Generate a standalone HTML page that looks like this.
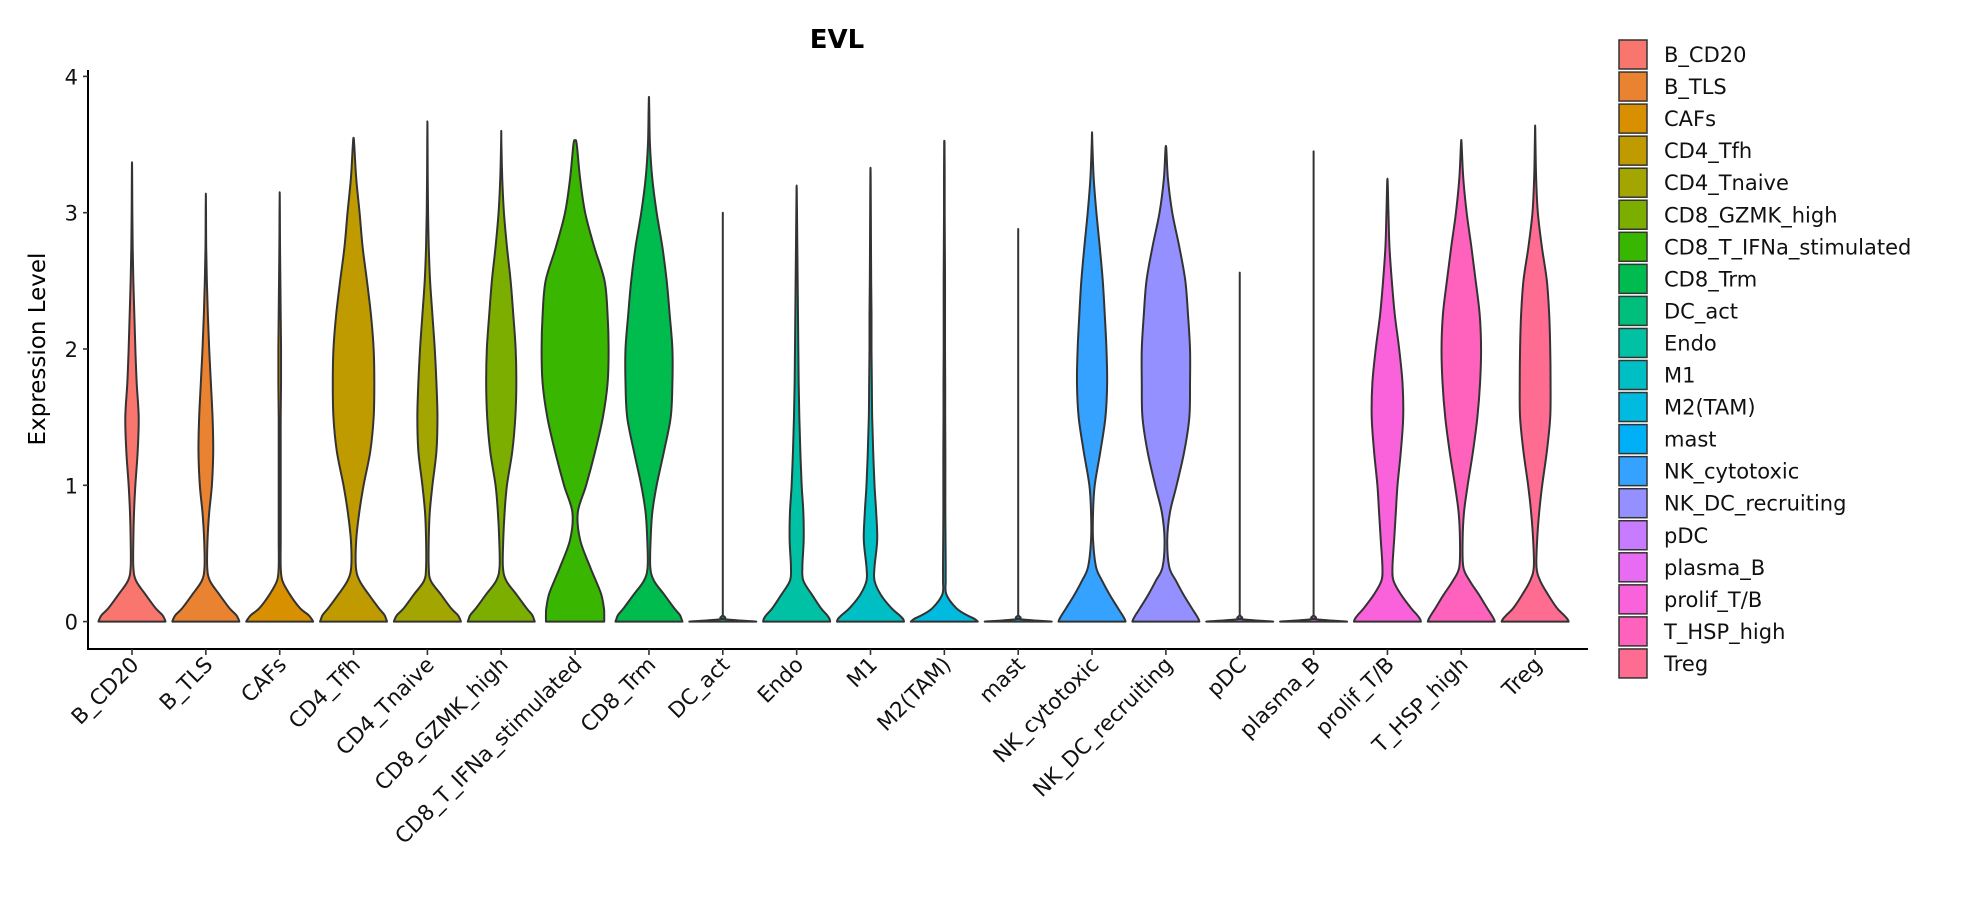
<!DOCTYPE html>
<html><head><meta charset="utf-8"><style>
html,body{margin:0;padding:0;background:#fff;}
svg{display:block;font-family:"DejaVu Sans","Liberation Sans",sans-serif;}
</style></head><body>
<svg id="chart" width="1965" height="900" viewBox="0 0 1965 900">
<text x="837" y="48" font-size="26" font-weight="bold" text-anchor="middle">EVL</text>
<text transform="translate(45,349) rotate(-90)" font-size="23" text-anchor="middle">Expression Level</text>
<g id="plot"></g>
<g id="legend"></g>
</svg>
<script>
const categories = ["B_CD20","B_TLS","CAFs","CD4_Tfh","CD4_Tnaive","CD8_GZMK_high","CD8_T_IFNa_stimulated","CD8_Trm","DC_act","Endo","M1","M2(TAM)","mast","NK_cytotoxic","NK_DC_recruiting","pDC","plasma_B","prolif_T/B","T_HSP_high","Treg"];
const colors = ["#F8766D","#EA8331","#D89000","#C09B00","#A3A500","#7CAE00","#39B600","#00BB4E","#00BF7D","#00C1A3","#00BFC4","#00BAE0","#00B0F6","#35A2FF","#9590FF","#C77CFF","#E76BF3","#FA62DB","#FF62BC","#FF6C91"];
const maxValues = [3.37,3.14,3.15,3.55,3.67,3.6,3.53,3.85,3.0,3.2,3.33,3.52,2.88,3.59,3.49,2.56,3.45,3.25,3.53,3.64];
const densityLevels = [0,0.02,0.05,0.1,0.2,0.3,0.4,0.6,0.8,1.0,1.25,1.5,1.75,2.0,2.25,2.5,2.75,3.0,3.25,3.5,3.75,4.0];
const FLAT = [1,0,0,0,0,0,0,0,0,0,0,0,0,0,0,0,0,0,0,0,0,0];
const densities = [
 [1,0.97,0.9,0.7,0.4,0.12,0.04,0.04,0.06,0.1,0.17,0.2,0.14,0.1,0.07,0.04,0.02,0.01,0.005,0,0,0],
 [1,0.97,0.9,0.7,0.4,0.12,0.04,0.05,0.1,0.18,0.22,0.2,0.15,0.1,0.06,0.03,0.01,0.005,0,0,0,0],
 [1,0.95,0.85,0.6,0.3,0.08,0.03,0.03,0.03,0.03,0.03,0.03,0.04,0.04,0.03,0.02,0.01,0.005,0,0,0,0],
 [1,0.97,0.92,0.75,0.45,0.18,0.07,0.08,0.17,0.3,0.5,0.6,0.62,0.6,0.52,0.4,0.27,0.18,0.08,0.02,0,0],
 [1,0.97,0.9,0.7,0.4,0.1,0.04,0.04,0.07,0.15,0.27,0.3,0.27,0.22,0.15,0.08,0.04,0.02,0.01,0.005,0,0],
 [1,0.97,0.92,0.75,0.45,0.15,0.05,0.06,0.1,0.17,0.33,0.42,0.45,0.43,0.36,0.28,0.17,0.08,0.03,0.005,0,0],
 [0.87,0.87,0.87,0.86,0.78,0.62,0.45,0.15,0.08,0.33,0.6,0.83,0.97,1.0,0.97,0.88,0.57,0.3,0.15,0.05,0,0],
 [1,0.97,0.92,0.75,0.45,0.15,0.04,0.05,0.1,0.23,0.45,0.65,0.7,0.7,0.62,0.53,0.4,0.23,0.1,0.03,0.01,0],
 FLAT,
 [1,0.98,0.9,0.72,0.45,0.2,0.17,0.21,0.2,0.15,0.11,0.08,0.06,0.05,0.04,0.03,0.02,0.01,0,0,0,0],
 [1,0.97,0.85,0.62,0.3,0.12,0.12,0.2,0.17,0.12,0.08,0.05,0.04,0.03,0.03,0.02,0.015,0.01,0.005,0,0,0],
 [1,0.9,0.65,0.35,0.06,0.04,0.04,0.035,0.03,0.03,0.03,0.025,0.025,0.02,0.02,0.02,0.015,0.01,0.01,0.005,0,0],
 FLAT,
 [1,0.97,0.9,0.77,0.52,0.3,0.12,0.03,0.03,0.08,0.25,0.4,0.45,0.43,0.38,0.32,0.23,0.13,0.05,0.01,0,0],
 [1,0.97,0.9,0.77,0.52,0.3,0.1,0.04,0.12,0.32,0.55,0.7,0.72,0.72,0.66,0.58,0.4,0.19,0.06,0.01,0,0],
 FLAT,
 FLAT,
 [1,0.97,0.88,0.7,0.4,0.18,0.15,0.2,0.25,0.3,0.4,0.47,0.45,0.35,0.22,0.13,0.06,0.03,0.01,0,0,0],
 [1,0.97,0.9,0.77,0.52,0.25,0.06,0.04,0.08,0.19,0.35,0.48,0.56,0.59,0.55,0.43,0.3,0.16,0.06,0.01,0,0],
 [1,0.96,0.85,0.65,0.38,0.15,0.04,0.06,0.12,0.21,0.35,0.45,0.46,0.45,0.42,0.35,0.2,0.08,0.03,0.01,0,0]
];
const yTicks = [0,1,2,3,4];

const NS = "http://www.w3.org/2000/svg";
const plot = document.getElementById('plot');
const legend = document.getElementById('legend');
const AX_L = 88, AX_R = 1588, AX_B = 649;
const Y0 = 621.6, PX_PER = 136.3;
const X0 = 132, STEP = 73.85, HALF = 33.5;
function yScale(v){ return Y0 - v*PX_PER; }
function xScale(i){ return X0 + i*STEP; }
function mk(tag, attrs){ const e=document.createElementNS(NS,tag); for(const k in attrs) e.setAttribute(k,attrs[k]); return e; }

const yAxis = mk('line',{x1:AX_L,y1:70,x2:AX_L,y2:AX_B+1,stroke:'#000','stroke-width':2});


plot.appendChild(yAxis);
const xAxis = mk('line',{x1:AX_L-1,y1:AX_B,x2:AX_R,y2:AX_B,stroke:'#000','stroke-width':2});


plot.appendChild(xAxis);

yTicks.forEach(t=>{
  const y=yScale(t);
  const tk=mk('line',{x1:AX_L-5,y1:y,x2:AX_L,y2:y,stroke:'#333','stroke-width':1.6});
  
  
  plot.appendChild(tk);
  const lb=mk('text',{x:AX_L-10,y:y+8,'font-size':21,'text-anchor':'end',fill:'#111'});
  lb.textContent=t;
  
  
  plot.appendChild(lb);
});

function smoothPath(pts){
  let d='';
  for(let i=0;i<pts.length-1;i++){
    const p0=pts[Math.max(0,i-1)], p1=pts[i], p2=pts[i+1], p3=pts[Math.min(pts.length-1,i+2)];
    const c1x=p1[0]+(p2[0]-p0[0])/6, c1y=p1[1]+(p2[1]-p0[1])/6;
    const c2x=p2[0]-(p3[0]-p1[0])/6, c2y=p2[1]-(p3[1]-p1[1])/6;
    d+=` C${c1x.toFixed(2)},${c1y.toFixed(2)} ${c2x.toFixed(2)},${c2y.toFixed(2)} ${p2[0].toFixed(2)},${p2[1].toFixed(2)}`;
  }
  return d;
}

categories.forEach((c,i)=>{
  const cx=xScale(i), mx=maxValues[i], dens=densities[i];
  const right=[];
  for(let k=0;k<densityLevels.length;k++){
    if(densityLevels[k]>=mx) break;
    right.push([cx+dens[k]*HALF, yScale(densityLevels[k])]);
  }
  right.push([cx, yScale(mx)]);
  const left=right.slice(0,-1).reverse().map(p=>[2*cx-p[0],p[1]]);
  const pts=right.concat(left);
  const d='M'+pts[0][0].toFixed(2)+','+pts[0][1].toFixed(2)+smoothPath(pts)+' Z';
  const path=mk('path',{d:d,fill:colors[i],stroke:'#333','stroke-width':2,'stroke-linejoin':'round'});
  
  
  plot.appendChild(path);
  const tk=mk('line',{x1:cx,y1:AX_B,x2:cx,y2:AX_B+6,stroke:'#333','stroke-width':1.6});
  
  
  plot.appendChild(tk);
  const lb=mk('text',{transform:`translate(${cx+8},${AX_B+17}) rotate(-45)`,'font-size':21.5,'text-anchor':'end',fill:'#111'});
  lb.textContent=c;
  
  
  plot.appendChild(lb);
  const ly=40+i*32.05;
  const g=mk('g',{});
  
  
  const r=mk('rect',{x:1619,y:ly,width:28,height:29,fill:colors[i],stroke:'#333','stroke-width':1.5});
  
  
  g.appendChild(r);
  const t=mk('text',{x:1664,y:ly+22,'font-size':21,fill:'#111'});
  t.textContent=c;
  
  
  g.appendChild(t);
  legend.appendChild(g);
});
</script>
</body></html>
